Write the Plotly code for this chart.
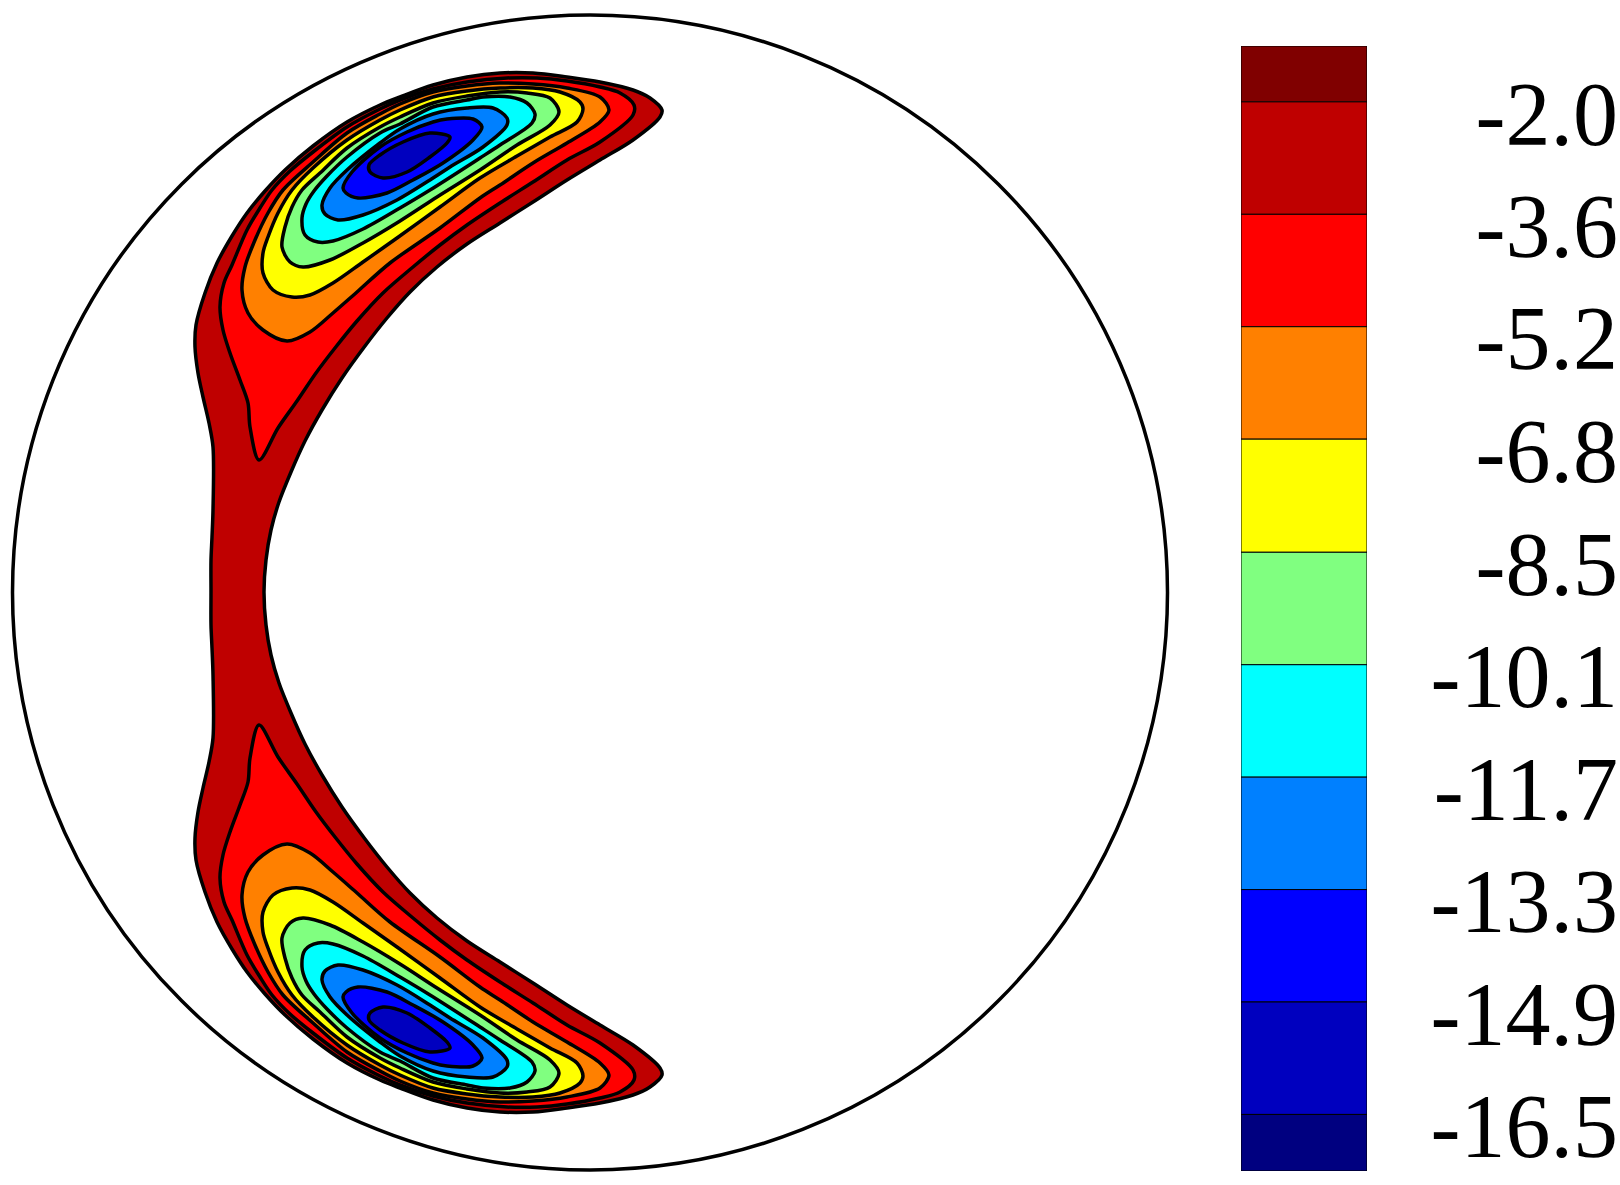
import plotly.graph_objects as go

# contour outlines (image px), upper half only,
# the field is symmetric about the horizontal midline
outer_x = [211, 211, 212, 213, 213, 209, 203, 198, 195, 196, 205, 217, 232, 247, 265, 285, 313, 347, 380, 400, 433, 467, 500, 533, 567, 600, 633, 650, 662, 660, 633, 600, 567, 533, 500, 467, 437, 410, 387, 365, 342, 322, 305, 291, 279, 271, 266, 264]
outer_y = [592, 560, 537, 510, 447, 423, 397, 373, 347, 325, 293, 263, 236, 213, 191, 170, 146, 122, 105, 97, 85, 77, 73, 73, 77, 82, 90, 98, 110, 117, 140, 160, 180, 202, 223, 244, 267, 292, 318, 346, 378, 410, 441, 472, 502, 530, 560, 592]

red_x = [259, 250, 248, 240, 230, 223, 220, 224, 232, 247, 260, 272, 290, 313, 347, 380, 400, 433, 467, 507, 537, 567, 600, 620, 634, 633, 600, 567, 533, 500, 467, 440, 413, 383, 357, 335, 316, 297, 278]
red_y = [460, 427, 403, 380, 353, 330, 307, 283, 265, 230, 208, 190, 171, 152, 127, 109, 100, 89, 82, 78, 78, 81, 87, 93, 105, 115, 142, 160, 182, 203, 225, 245, 267, 293, 321, 348, 373, 401, 428]

orange_x = [287, 263, 248, 242, 245, 255, 268, 283, 313, 347, 380, 400, 433, 467, 500, 533, 567, 600, 609, 600, 567, 533, 500, 480, 440, 390, 357, 333, 310]
orange_y = [341, 330, 313, 290, 267, 240, 213, 190, 162, 133, 114, 104, 92, 86, 83, 84, 88, 97, 110, 122, 143, 163, 185, 198, 228, 263, 292, 313, 332]

yellow_x = [292, 273, 263, 263, 268, 278, 292, 313, 347, 380, 400, 433, 467, 500, 533, 560, 580, 583, 577, 550, 517, 480, 440, 397, 363, 333, 310]
yellow_y = [297, 290, 273, 253, 237, 213, 190, 168, 140, 120, 110, 97, 91, 88, 88, 92, 102, 109, 122, 137, 156, 178, 207, 238, 262, 283, 295]

green_x = [303, 290, 282, 285, 292, 302, 320, 347, 380, 400, 433, 467, 500, 527, 550, 559, 550, 517, 480, 437, 400, 363, 330]
green_y = [267, 262, 247, 227, 207, 190, 173, 148, 127, 117, 103, 96, 92, 93, 98, 112, 125, 145, 170, 197, 221, 243, 260]

cyan_x = [318, 305, 302, 306, 314, 327, 347, 380, 400, 433, 467, 483, 510, 527, 535, 532, 500, 480, 430, 400, 363, 333]
cyan_y = [242, 235, 218, 204, 191, 176, 157, 133, 124, 107, 100, 97, 97, 103, 114, 123, 145, 158, 190, 208, 229, 241]

azure_x = [338, 325, 322, 330, 347, 380, 400, 433, 467, 493, 507, 507, 483, 450, 430, 397, 363]
azure_y = [220, 214, 205, 188, 170, 143, 129, 114, 108, 108, 118, 125, 147, 167, 180, 200, 215]

blue_x = [358, 346, 343, 352, 380, 407, 433, 447, 473, 482, 473, 443, 413, 387]
blue_y = [198, 193, 188, 172, 147, 132, 122, 119, 119, 127, 140, 163, 180, 193]

navy_x = [383, 370, 369, 380, 403, 430, 450, 447, 430, 407]
navy_y = [178, 172, 165, 155, 142, 133, 137, 143, 157, 172]

band_colors = ['#800000', '#BF0000', '#FF0000', '#FF8000', '#FFFF00', '#80FF80',
               '#00FFFF', '#0080FF', '#0000FF', '#0000BF', '#000080']
levels = [-2.0, -3.61, -5.22, -6.83, -8.45, -10.06, -11.67, -13.28, -14.89, -16.5]
level_labels = ['-2.0', '-3.6', '-5.2', '-6.8', '-8.5', '-10.1', '-11.7', '-13.3', '-14.9', '-16.5']
scale_top = -1.2
scale_bottom = -17.31

CX, CY, R = 590.0, 592.5, 577.5
W, H = 1620, 1185


def to_r(xs, ys):
    """Image px to radius units."""
    return [(x - CX) / R for x in xs], [(CY - y) / R for y in ys]


def add_region(fig, xs, ys, color):
    fig.add_trace(go.Scatter(
        x=xs + xs[:1], y=ys + ys[:1],
        mode='lines',
        fill='toself',
        fillcolor=color,
        line=dict(color='black', width=3.5, shape='spline', smoothing=0.9),
        hoverinfo='skip',
        showlegend=False,
    ))


fig = go.Figure()

# outer band is one piece, upper half then its mirror image
ox, oy = to_r(outer_x, outer_y)
add_region(fig, ox + ox[-2:0:-1], oy + [-v for v in oy[-2:0:-1]], '#BF0000')

regions = [
    (red_x, red_y, '#FF0000'),
    (orange_x, orange_y, '#FF8000'),
    (yellow_x, yellow_y, '#FFFF00'),
    (green_x, green_y, '#80FF80'),
    (cyan_x, cyan_y, '#00FFFF'),
    (azure_x, azure_y, '#0080FF'),
    (blue_x, blue_y, '#0000FF'),
    (navy_x, navy_y, '#0000BF'),
]
for xs, ys, color in regions:
    rx, ry = to_r(xs, ys)
    add_region(fig, rx, ry, color)
    add_region(fig, rx, [-v for v in ry], color)

# colour scale
tops = [scale_top] + levels
bottoms = levels + [scale_bottom]
fig.add_trace(go.Bar(
    x=[0] * len(band_colors),
    y=[t - b for t, b in zip(tops, bottoms)],
    base=bottoms,
    width=1,
    marker=dict(color=band_colors, line=dict(color='black', width=1)),
    xaxis='x2', yaxis='y2',
    hoverinfo='skip',
    showlegend=False,
))

fig.add_shape(type='circle', xref='x', yref='y', x0=-1, x1=1, y0=-1, y1=1,
              line=dict(color='black', width=3.5), layer='below')

fig.update_layout(
    width=W, height=H,
    margin=dict(l=0, r=0, t=0, b=0),
    paper_bgcolor='white',
    plot_bgcolor='rgba(0,0,0,0)',
    barmode='overlay',
    xaxis=dict(domain=[0, 1220 / W], range=[(0 - CX) / R, (1220 - CX) / R], visible=False),
    yaxis=dict(domain=[0, 1], range=[(CY - H) / R, CY / R], visible=False),
    xaxis2=dict(domain=[1241 / W, 1367 / W], range=[-0.5, 0.5], anchor='y2', visible=False),
    yaxis2=dict(
        domain=[1 - 1171 / H, 1 - 46 / H],
        range=[scale_bottom, scale_top],
        anchor='free', position=1618 / W, side='left',
        automargin=False,
        tickmode='array',
        tickvals=[v - 0.16 for v in levels],
        ticktext=level_labels,
        ticks='', showgrid=False, zeroline=False, showline=False,
        tickfont=dict(family='Liberation Serif', size=90, color='black'),
    ),
)

fig.write_html('out.html', post_script="document.body.style.margin='0'",
               config=dict(displayModeBar=False))
